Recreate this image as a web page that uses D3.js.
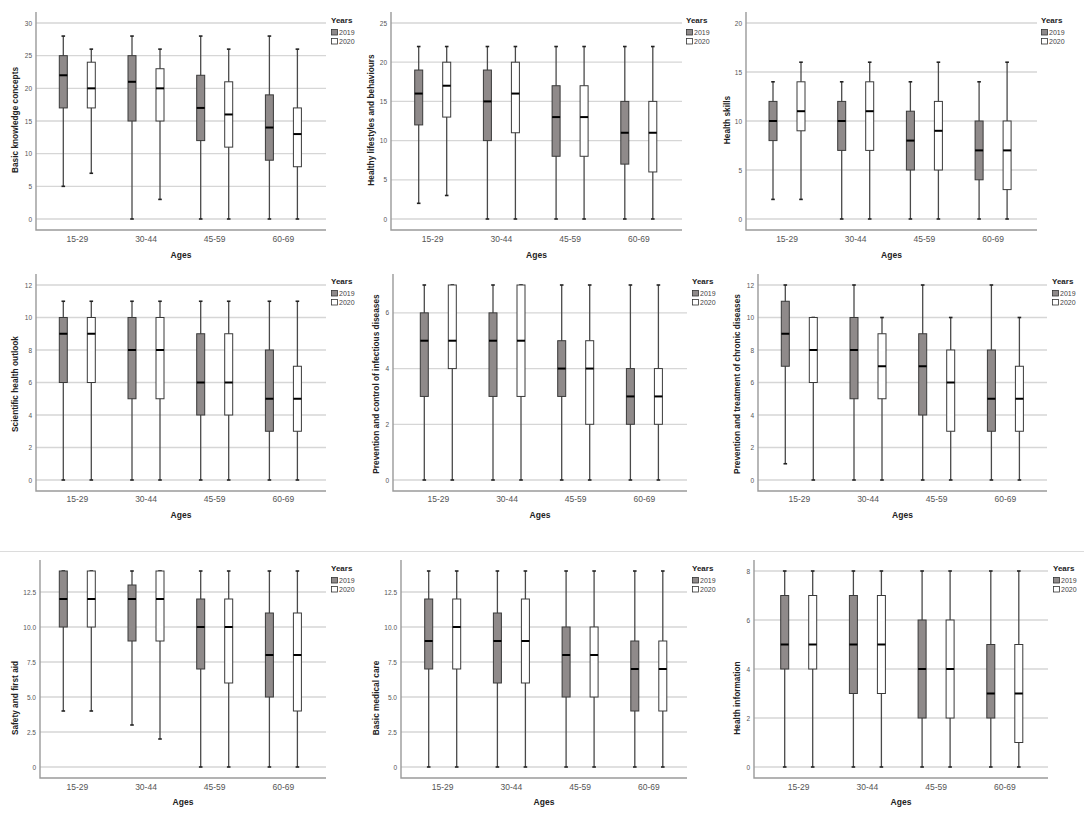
<!DOCTYPE html>
<html>
<head>
<meta charset="utf-8">
<script src="https://cdn.jsdelivr.net/npm/d3@7"></script>
<style>
body { margin: 0; background: #fff; }
svg text { font-family: Arial, "Liberation Sans", sans-serif; }
</style>
</head>
<body>
<svg id="chart" width="1084" height="813"></svg>
<script>
const ages = ['15-29', '30-44', '45-59', '60-69']
const years = ['2019', '2020']

const titles = [
  'Basic knowledge concepts', 'Healthy lifestyles and behaviours', 'Health skills',
  'Scientific health outlook', 'Prevention and control of infectious diseases', 'Prevention and treatment of chronic diseases',
  'Safety and first aid', 'Basic medical care', 'Health information'
]

// each age group: [2019, 2020], each box: [min, q1, median, q3, max]
const basicKnowledge = [
  [[5, 17, 22, 25, 28], [7, 17, 20, 24, 26]],
  [[0, 15, 21, 25, 28], [3, 15, 20, 23, 26]],
  [[0, 12, 17, 22, 28], [0, 11, 16, 21, 26]],
  [[0, 9, 14, 19, 28], [0, 8, 13, 17, 26]]
]
const healthyLifestyles = [
  [[2, 12, 16, 19, 22], [3, 13, 17, 20, 22]],
  [[0, 10, 15, 19, 22], [0, 11, 16, 20, 22]],
  [[0, 8, 13, 17, 22], [0, 8, 13, 17, 22]],
  [[0, 7, 11, 15, 22], [0, 6, 11, 15, 22]]
]
const healthSkills = [
  [[2, 8, 10, 12, 14], [2, 9, 11, 14, 16]],
  [[0, 7, 10, 12, 14], [0, 7, 11, 14, 16]],
  [[0, 5, 8, 11, 14], [0, 5, 9, 12, 16]],
  [[0, 4, 7, 10, 14], [0, 3, 7, 10, 16]]
]
const scientificOutlook = [
  [[0, 6, 9, 10, 11], [0, 6, 9, 10, 11]],
  [[0, 5, 8, 10, 11], [0, 5, 8, 10, 11]],
  [[0, 4, 6, 9, 11], [0, 4, 6, 9, 11]],
  [[0, 3, 5, 8, 11], [0, 3, 5, 7, 11]]
]
const infectious = [
  [[0, 3, 5, 6, 7], [0, 4, 5, 7, 7]],
  [[0, 3, 5, 6, 7], [0, 3, 5, 7, 7]],
  [[0, 3, 4, 5, 7], [0, 2, 4, 5, 7]],
  [[0, 2, 3, 4, 7], [0, 2, 3, 4, 7]]
]
const chronic = [
  [[1, 7, 9, 11, 12], [0, 6, 8, 10, 10]],
  [[0, 5, 8, 10, 12], [0, 5, 7, 9, 10]],
  [[0, 4, 7, 9, 12], [0, 3, 6, 8, 10]],
  [[0, 3, 5, 8, 12], [0, 3, 5, 7, 10]]
]
const safety = [
  [[4, 10, 12, 14, 14], [4, 10, 12, 14, 14]],
  [[3, 9, 12, 13, 14], [2, 9, 12, 14, 14]],
  [[0, 7, 10, 12, 14], [0, 6, 10, 12, 14]],
  [[0, 5, 8, 11, 14], [0, 4, 8, 11, 14]]
]
const medicalCare = [
  [[0, 7, 9, 12, 14], [0, 7, 10, 12, 14]],
  [[0, 6, 9, 11, 14], [0, 6, 9, 12, 14]],
  [[0, 5, 8, 10, 14], [0, 5, 8, 10, 14]],
  [[0, 4, 7, 9, 14], [0, 4, 7, 9, 14]]
]
const healthInfo = [
  [[0, 4, 5, 7, 8], [0, 4, 5, 7, 8]],
  [[0, 3, 5, 7, 8], [0, 3, 5, 7, 8]],
  [[0, 2, 4, 6, 8], [0, 2, 4, 6, 8]],
  [[0, 2, 3, 5, 8], [0, 1, 3, 5, 8]]
]

const yTicks = [
  [0, 5, 10, 15, 20, 25, 30],
  [0, 5, 10, 15, 20, 25],
  [0, 5, 10, 15, 20],
  [0, 2, 4, 6, 8, 10, 12],
  [0, 2, 4, 6],
  [0, 2, 4, 6, 8, 10, 12],
  [0, 2.5, 5, 7.5, 10, 12.5],
  [0, 2.5, 5, 7.5, 10, 12.5],
  [0, 2, 4, 6, 8]
]
const yTop = [30, 25, 20, 12, 7, 12, 14, 14, 8]

const panelData = [basicKnowledge, healthyLifestyles, healthSkills, scientificOutlook,
  infectious, chronic, safety, medicalCare, healthInfo]

// layout
const rows = [
  {pTop: 23, p0: 219, catY: 242, agesY: 258, labelY: 120, legY: 20},
  {pTop: 285, p0: 480, catY: 502, agesY: 518, labelY: 384, legY: 281},
  {pTop: 571, p0: 767, catY: 790, agesY: 805, labelY: 698, legY: 568}
]
const cols = [
  // axisX, plotRight, first category center, y label x, legend x
  [{ax: 36, right: 326, c1: 77.3, lx: 15, legX: 331}, {ax: 391, right: 682, c1: 432.7, lx: 371, legX: 686}, {ax: 746, right: 1037, c1: 787, lx: 727, legX: 1041}],
  [{ax: 36, right: 326, c1: 77.3, lx: 15, legX: 331}, {ax: 393, right: 687, c1: 438.3, lx: 376, legX: 692}, {ax: 758, right: 1047, c1: 799.3, lx: 737, legX: 1052}],
  [{ax: 40, right: 326, c1: 77.3, lx: 15, legX: 331}, {ax: 401, right: 687, c1: 442.7, lx: 376, legX: 692}, {ax: 754, right: 1048, c1: 798.7, lx: 737, legX: 1053}]
]

const svg = d3.select('#chart')
const fills = {'2019': '#8f8a8a', '2020': '#ffffff'}
const catStep = 68.7

// separator above bottom row
svg.append('line')
  .attr('x1', 0).attr('x2', 1084)
  .attr('y1', 551.5).attr('y2', 551.5)
  .attr('stroke', '#dcdcdc').attr('stroke-width', 1.2)

panelData.forEach((data, i) => {
  const r = rows[Math.floor(i / 3)]
  const c = cols[Math.floor(i / 3)][i % 3]
  const g = svg.append('g')

  const y = d3.scaleLinear().domain([0, yTop[i]]).range([r.p0, r.pTop])
  const x = d3.scaleBand().domain(ages)
    .range([c.c1 - catStep / 2, c.c1 - catStep / 2 + catStep * 4])
  const xYear = d3.scalePoint().domain(years).range([-14, 14])

  // grid
  g.selectAll('.grid')
    .data(yTicks[i])
    .enter()
    .append('line')
    .attr('x1', c.ax).attr('x2', c.right)
    .attr('y1', d => y(d)).attr('y2', d => y(d))
    .attr('stroke', '#d6d6d6').attr('stroke-width', 1.3)

  // axes lines
  g.append('path')
    .attr('d', `M${c.ax},${r.pTop - 11}V${r.p0 + 11}H${c.right}`)
    .attr('fill', 'none').attr('stroke', '#9a9a9a').attr('stroke-width', 1.4)

  const fmt = yTicks[i].some(t => t % 1 !== 0) ? (d => d === 0 ? '0' : d3.format('.1f')(d)) : d3.format('d')

  g.append('g')
    .attr('transform', `translate(${c.ax},0)`)
    .call(d3.axisLeft(y).tickValues(yTicks[i]).tickSize(0).tickPadding(4).tickFormat(fmt))
    .call(a => a.select('.domain').remove())
    .selectAll('text')
    .attr('font-size', 6.5)
    .attr('fill', '#555')
    .style('font-family', 'Arial, "Liberation Sans", sans-serif')

  // category labels
  g.selectAll('.cat')
    .data(ages)
    .enter()
    .append('text')
    .attr('x', d => x(d) + x.bandwidth() / 2)
    .attr('y', r.catY)
    .attr('text-anchor', 'middle')
    .attr('font-size', 8.5)
    .attr('fill', '#555')
    .text(d => d)

  // boxes
  const boxes = []
  data.forEach((pair, ai) => pair.forEach((s, yi) => boxes.push({age: ages[ai], year: years[yi], s})))

  const bw = 8
  const bx = g.selectAll('.box')
    .data(boxes)
    .enter()
    .append('g')
    .attr('transform', d => `translate(${x(d.age) + x.bandwidth() / 2 + xYear(d.year)},0)`)

  bx.append('line')
    .attr('x1', 0).attr('x2', 0)
    .attr('y1', d => y(d.s[0])).attr('y2', d => y(d.s[4]))
    .attr('stroke', '#4a4a4a').attr('stroke-width', 1.3)

  bx.selectAll('.cap')
    .data(d => [d.s[0], d.s[4]])
    .enter()
    .append('line')
    .attr('x1', -1.8).attr('x2', 1.8)
    .attr('y1', d => y(d)).attr('y2', d => y(d))
    .attr('stroke', '#222').attr('stroke-width', 1.6)

  bx.append('rect')
    .attr('x', -bw / 2)
    .attr('width', bw)
    .attr('y', d => y(d.s[3]))
    .attr('height', d => y(d.s[1]) - y(d.s[3]))
    .attr('fill', d => fills[d.year])
    .attr('stroke', '#3a3a3a').attr('stroke-width', 1)

  bx.append('line')
    .attr('x1', -bw / 2).attr('x2', bw / 2)
    .attr('y1', d => y(d.s[2])).attr('y2', d => y(d.s[2]))
    .attr('stroke', '#000').attr('stroke-width', 2)

  // axis titles
  g.append('text')
    .attr('x', (c.ax + c.right) / 2)
    .attr('y', r.agesY)
    .attr('text-anchor', 'middle')
    .attr('font-size', 8.5).attr('font-weight', 'bold').attr('fill', '#222')
    .text('Ages')

  g.append('text')
    .attr('transform', `translate(${c.lx + 3},${r.labelY}) rotate(-90)`)
    .attr('text-anchor', 'middle')
    .attr('font-size', 8.3).attr('font-weight', 'bold').attr('fill', '#222')
    .text(titles[i])

  // legend
  const leg = g.append('g').attr('transform', `translate(${c.legX},${r.legY})`)
  leg.append('text')
    .attr('y', 3)
    .attr('font-size', 8).attr('font-weight', 'bold').attr('fill', '#222')
    .text('Years')
  years.forEach((yr, k) => {
    leg.append('rect')
      .attr('x', 0.5).attr('y', 9.5 + k * 9)
      .attr('width', 6).attr('height', 5.5)
      .attr('fill', fills[yr]).attr('stroke', '#333').attr('stroke-width', 0.8)
    leg.append('text')
      .attr('x', 8).attr('y', 15 + k * 9)
      .attr('font-size', 7).attr('fill', '#444')
      .text(yr)
  })
})
</script>
</body>
</html>
